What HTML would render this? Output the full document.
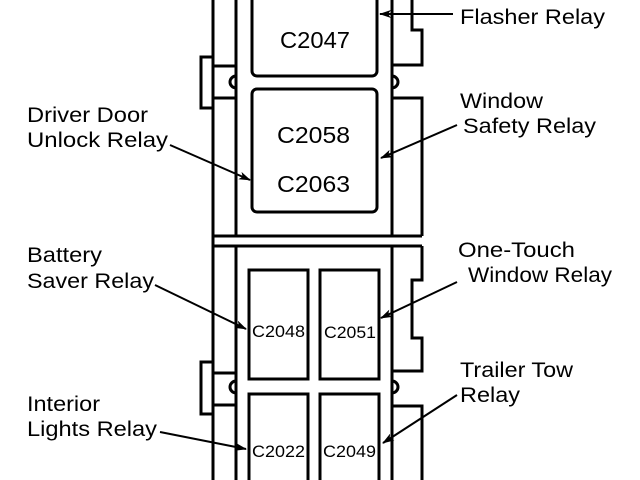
<!DOCTYPE html>
<html><head><meta charset="utf-8"><style>
html,body{margin:0;padding:0;background:#fff;width:640px;height:480px;overflow:hidden}
svg{display:block}
text{font-family:"Liberation Sans",sans-serif;fill:#000}
</style></head><body>
<svg width="640" height="480" viewBox="0 0 640 480" xmlns="http://www.w3.org/2000/svg">
<defs>
<marker id="a" markerWidth="12" markerHeight="8" refX="11" refY="4" orient="auto" markerUnits="userSpaceOnUse">
<path d="M0,0 L12,4 L0,8 L3,4 Z" fill="#000"/></marker>
</defs>
<g fill="none" stroke="#000" stroke-width="3">
<line x1="213" y1="0" x2="213" y2="480"/>
<line x1="236" y1="0" x2="236" y2="236"/>
<line x1="236" y1="246" x2="236" y2="480"/>
<line x1="392" y1="0" x2="392" y2="236"/>
<line x1="392" y1="246" x2="392" y2="480"/>
<line x1="213" y1="236" x2="422" y2="236"/>
<line x1="213" y1="246" x2="422" y2="246"/>
<polyline points="412,0 412,30 422,30 422,65 392,65"/>
<polyline points="392,98 422,98 422,236"/>
<polyline points="422,246 422,280 412,280 412,338 422,338 422,371 392,371"/>
<polyline points="392,406 422,406 422,480"/>
<polyline points="213,57 201,57 201,108 213,108"/>
<line x1="213" y1="66" x2="236" y2="66"/>
<line x1="213" y1="98" x2="236" y2="98"/>
<polyline points="213,362 201,362 201,414 213,414"/>
<line x1="213" y1="373" x2="236" y2="373"/>
<line x1="213" y1="405" x2="236" y2="405"/>
<path d="M236,76 A6,6 0 0 0 236,88"/>
<path d="M392,76 A6,6 0 0 1 392,88"/>
<path d="M236,381 A6,6 0 0 0 236,393"/>
<path d="M392,381 A6,6 0 0 1 392,393"/>
<rect x="252" y="-10" width="125" height="86" rx="5"/>
<rect x="252" y="89" width="125" height="123" rx="5"/>
<rect x="249" y="270" width="59" height="109"/>
<rect x="320" y="270" width="59" height="109"/>
<rect x="249" y="394" width="59" height="100"/>
<rect x="320" y="394" width="59" height="100"/>
</g>
<g stroke="#000" stroke-width="2" fill="none" marker-end="url(#a)">
<line x1="453" y1="14" x2="380" y2="14"/>
<line x1="457" y1="125" x2="381" y2="158"/>
<line x1="170" y1="145" x2="250" y2="180"/>
<line x1="155" y1="285" x2="246" y2="329"/>
<line x1="457" y1="282" x2="381" y2="318"/>
<line x1="457" y1="395" x2="383" y2="443"/>
<line x1="160" y1="432" x2="246" y2="449"/>
</g>
<g font-size="21">
<text x="460" y="24" textLength="145" lengthAdjust="spacingAndGlyphs">Flasher Relay</text>
<text x="460" y="108" textLength="83" lengthAdjust="spacingAndGlyphs">Window</text>
<text x="463" y="133" textLength="133" lengthAdjust="spacingAndGlyphs">Safety Relay</text>
<text x="27" y="122" textLength="121" lengthAdjust="spacingAndGlyphs">Driver Door</text>
<text x="27" y="147" textLength="141" lengthAdjust="spacingAndGlyphs">Unlock Relay</text>
<text x="27" y="262" textLength="75" lengthAdjust="spacingAndGlyphs">Battery</text>
<text x="27" y="288" textLength="127" lengthAdjust="spacingAndGlyphs">Saver Relay</text>
<text x="458" y="257" textLength="117" lengthAdjust="spacingAndGlyphs">One-Touch</text>
<text x="468" y="282" textLength="144" lengthAdjust="spacingAndGlyphs">Window Relay</text>
<text x="460" y="377" textLength="113" lengthAdjust="spacingAndGlyphs">Trailer Tow</text>
<text x="460" y="402" textLength="60" lengthAdjust="spacingAndGlyphs">Relay</text>
<text x="27" y="411" textLength="73" lengthAdjust="spacingAndGlyphs">Interior</text>
<text x="27" y="436" textLength="130" lengthAdjust="spacingAndGlyphs">Lights Relay</text>
</g>
<g font-size="23">
<text x="280" y="48" textLength="70" lengthAdjust="spacingAndGlyphs">C2047</text>
<text x="277" y="143" textLength="73" lengthAdjust="spacingAndGlyphs">C2058</text>
<text x="277" y="192" textLength="73" lengthAdjust="spacingAndGlyphs">C2063</text>
</g>
<g font-size="17">
<text x="252" y="337" textLength="53" lengthAdjust="spacingAndGlyphs">C2048</text>
<text x="324" y="338" textLength="52" lengthAdjust="spacingAndGlyphs">C2051</text>
<text x="252" y="457" textLength="53" lengthAdjust="spacingAndGlyphs">C2022</text>
<text x="323" y="457" textLength="53" lengthAdjust="spacingAndGlyphs">C2049</text>
</g>
</svg>
</body></html>
